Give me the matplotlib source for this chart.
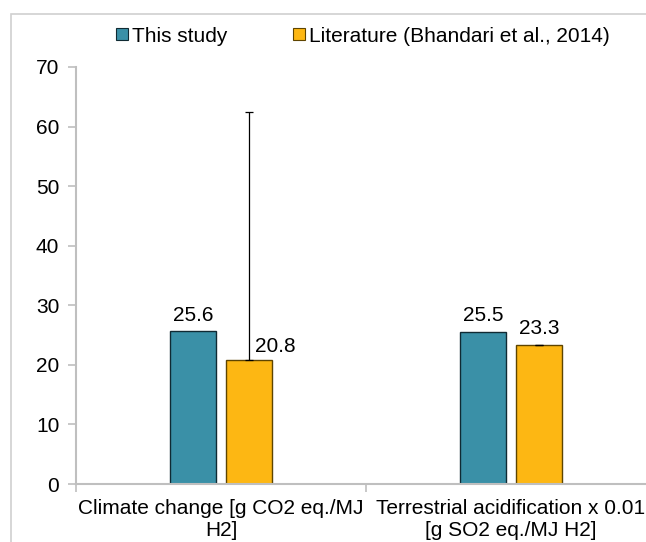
import numpy as np
import matplotlib.pyplot as plt
from matplotlib.patches import Rectangle
from matplotlib.lines import Line2D

plt.rcParams['font.family'] = ['Liberation Sans', 'DejaVu Sans']

categories = ["Climate change [g CO2 eq./MJ\nH2]",
              "Terrestrial acidification x 0.01\n[g SO2 eq./MJ H2]"]
series_names = ["This study", "Literature (Bhandari et al., 2014)"]
this_study = [25.6, 25.5]
literature = [20.8, 23.3]
literature_err_up = [41.7, 0.1]
literature_err_down = [0.0, 0.0]

teal = '#3A90A7'
yellow = '#FDB713'
grid_gray = '#BFBFBF'
fs = 15

fig = plt.figure(figsize=(6.46, 5.42), dpi=100)
# outer chart frame (partly cut by the image edge)
fig.patches.append(Rectangle((11 / 646, -0.1), 1.2, 1 - 14 / 542 + 0.1,
                             transform=fig.transFigure, fill=False,
                             edgecolor='#D0D0D0', linewidth=1.2))

ax = fig.add_axes([76 / 646, 58 / 542, 580 / 646, 417 / 542])
x = np.arange(len(categories))
w = 0.159
off = 0.097

ax.bar(x - off, this_study, w, color=teal, edgecolor='#102A33', linewidth=1, zorder=2)
ax.bar(x + off, literature, w, color=yellow, edgecolor='#5E4400', linewidth=1, zorder=2)
ax.errorbar(x + off, literature, yerr=[literature_err_down, literature_err_up],
            fmt='none', ecolor='black', elinewidth=0.9, capsize=3, capthick=0.9, zorder=3)

# value labels
for xi, v in zip(x - off, this_study):
    ax.annotate(f"{v:.1f}", (xi, v), xytext=(0, 5), textcoords='offset points',
                ha='center', va='bottom', fontsize=fs)
label_shift = [0.09, 0.0]
label_lift = [3, 5]
for xi, v, s, d in zip(x + off, literature, label_shift, label_lift):
    ax.annotate(f"{v:.1f}", (xi + s, v), xytext=(0, d), textcoords='offset points',
                ha='center', va='bottom', fontsize=fs)

ax.set_xlim(-0.5, 1.5)
ax.set_ylim(0, 70)
ax.set_yticks(np.arange(0, 71, 10))
ax.set_xticks(x)
ax.set_xticklabels(categories, fontsize=fs, linespacing=1.15)
ax.tick_params(axis='x', length=0, pad=11)
ax.set_xticks([-0.5, 0.5, 1.5], minor=True)
ax.tick_params(axis='x', which='minor', length=6, color=grid_gray, width=1.2)
ax.tick_params(axis='y', labelsize=fs, length=6, color=grid_gray, width=1.2, pad=6)

for s in ['top', 'right']:
    ax.spines[s].set_visible(False)
for s in ['left', 'bottom']:
    ax.spines[s].set_color(grid_gray)
    ax.spines[s].set_linewidth(1.5)

handles = [Line2D([], [], marker='s', linestyle='none', markersize=9,
                  markerfacecolor=teal, markeredgecolor='#102A33', markeredgewidth=0.8),
           Line2D([], [], marker='s', linestyle='none', markersize=9,
                  markerfacecolor=yellow, markeredgecolor='#5E4400', markeredgewidth=0.8)]
fig.legend(handles, series_names, loc='center', bbox_to_anchor=(0.56, 1 - 36 / 542),
           ncols=2, frameon=False, fontsize=fs, handletextpad=0.1,
           columnspacing=3.0, handlelength=0.8)

fig.savefig('out.png', dpi=100)
